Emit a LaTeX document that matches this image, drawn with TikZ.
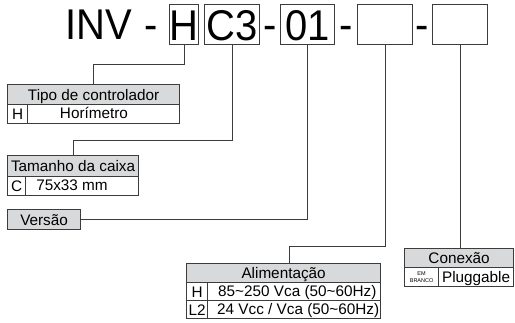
\documentclass[tikz,border=0pt]{standalone}
\usepackage{fontspec}
\setmainfont{Liberation Sans}
\newfontfamily\bigfont[FakeStretch=0.93]{Liberation Sans}
\definecolor{ln}{HTML}{3C3C3C}
\definecolor{hd}{HTML}{D8D9DA}
\tikzset{
  big/.style={inner sep=0pt, font=\bigfont\fontsize{43}{43}\selectfont, text height=31pt, text depth=0pt},
  codebox/.style={big, draw=ln, line width=1.3pt, minimum height=40pt, anchor=north west},
  hdr/.style={draw=ln, fill=hd, line width=1.2pt, inner sep=0pt, anchor=north west,
              font=\fontsize{15.3}{15.3}\selectfont, text height=11pt, text depth=0pt},
  cellbox/.style={draw=ln, line width=1.2pt, inner sep=0pt, anchor=north west},
  txt/.style={inner sep=0pt, font=\fontsize{15.3}{15.3}\selectfont, text height=11pt, text depth=0pt},
  conn/.style={draw=ln, line width=1.2pt},
}
\begin{document}
\begin{tikzpicture}[x=1pt,y=-1pt]
\useasboundingbox (0,0) rectangle (515,323);
% top code
\node[big, anchor=base west] (inv) at (65,40) {INV};
\node[big, anchor=base] (d1) at (151,40) {-};
\node[codebox, minimum width=29pt] (bH) at (169,4) {H};
\node[codebox, minimum width=55pt] (bC) at (204,4) {C3};
\node[big, anchor=base] (d2) at (270,40) {-};
\node[codebox, minimum width=54pt] (b01) at (280,4) {01};
\node[big, anchor=base] (d3) at (346.5,40) {-};
\node[codebox, minimum width=55pt] (b4) at (357,4) {};
\node[big, anchor=base] (d4) at (422,40) {-};
\node[codebox, minimum width=55pt] (b5) at (432,4) {};

% Tipo de controlador
\node[hdr, minimum width=172pt, minimum height=20pt] (tipoT) at (7,84) {Tipo de controlador};
\node[cellbox, minimum width=20pt, minimum height=19pt] (tipoK) at (7,104) {};
\node[cellbox, minimum width=152pt, minimum height=19pt] (tipoV) at (27,104) {};
\node[txt] (tipoKt) at (tipoK) {H};
\node[txt] (tipoVt) at (94,113.5) {Horímetro};

% Tamanho da caixa
\node[hdr, minimum width=131pt, minimum height=21pt] (tamT) at (7,155) {Tamanho da caixa};
\node[cellbox, minimum width=18pt, minimum height=19pt] (tamK) at (7,176) {};
\node[cellbox, minimum width=113pt, minimum height=19pt] (tamV) at (25,176) {};
\node[txt] (tamKt) at (tamK) {C};
\node[txt] (tamVt) at (72,185.5) {75x33 mm};

% Versao
\node[hdr, minimum width=73pt, minimum height=20pt] (verT) at (7,209) {Versão};

% Alimentacao
\node[hdr, minimum width=194pt, minimum height=19pt] (aliT) at (186,263) {Alimentação};
\node[cellbox, minimum width=21pt, minimum height=18pt] (aliK1) at (186,282) {};
\node[cellbox, minimum width=173pt, minimum height=18pt] (aliV1) at (207,282) {};
\node[cellbox, minimum width=21pt, minimum height=18pt] (aliK2) at (186,300) {};
\node[cellbox, minimum width=173pt, minimum height=18pt] (aliV2) at (207,300) {};
\node[txt] (aliK1t) at (aliK1) {H};
\node[txt] (aliK2t) at (aliK2) {L2};
\node[txt, anchor=west] (aliV1t) at (218,291) {85\char"7E 250 Vca (50\char"7E 60Hz)};
\node[txt, anchor=west] (aliV2t) at (217,309) {24 Vcc / Vca (50\char"7E 60Hz)};

% Conexao
\node[hdr, minimum width=109pt, minimum height=19pt] (conT) at (404,248) {Conexão};
\node[cellbox, minimum width=34pt, minimum height=19pt] (conK) at (404,267) {};
\node[cellbox, minimum width=75pt, minimum height=19pt] (conV) at (438,267) {};
\node[inner sep=0pt, align=center, font=\fontsize{5.5}{6.5}\selectfont] (conKt) at (conK) {EM\\BRANCO};
\node[txt] (conVt) at (conV) {Pluggable};

% connectors
\draw[conn] (bH.south) -- ++(0,19) -| (tipoT.north);
\draw[conn] (bC.south) -- ++(0,95) -| (tamT.north);
\draw[conn] (b01.south) |- (verT.east);
\draw[conn] (b4.south) -- ++(0,201) -| ([xshift=6pt]aliT.north);
\draw[conn] (b5.south) -- (b5.south |- conT.north);
\end{tikzpicture}
\end{document}
